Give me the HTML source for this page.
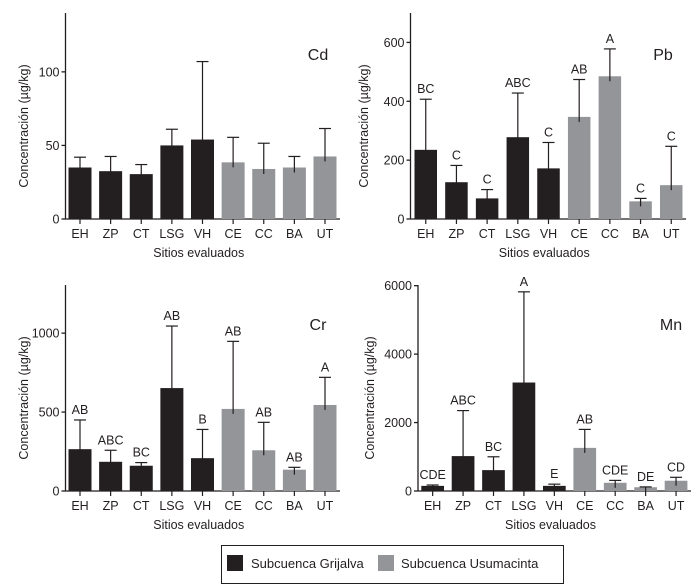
<!DOCTYPE html>
<html><head><meta charset="utf-8"><style>
html,body{margin:0;padding:0;background:#fff;}
svg{display:block;font-family:"Liberation Sans",Arial,sans-serif;}
</style></head><body>
<svg id="chart" width="696" height="587" viewBox="0 0 696 587" xmlns="http://www.w3.org/2000/svg">
<g>
<rect x="221.5" y="545.5" width="342" height="38" fill="none" stroke="#231f20" stroke-width="1"/>
<rect x="227" y="555" width="16" height="16" fill="#231f20"/>
<text x="251" y="568" font-size="13" fill="#231f20">Subcuenca Grijalva</text>
<rect x="378" y="555" width="16" height="16" fill="#939598"/>
<text x="401" y="568" font-size="13" fill="#231f20">Subcuenca Usumacinta</text>
</g>
</svg>
<script>
const sites = ["EH","ZP","CT","LSG","VH","CE","CC","BA","UT"];
const groups = [0,0,0,0,0,1,1,1,1];
const cdValues = [35,32.5,30.5,50,54,38.5,34,35,42.5];
const cdErrTop = [42,42.5,37,61,107,55.5,51.5,42.5,61.5];
const cdTicks = [0,50,100];
const pbValues = [235,125,70,278,172,347,485,60,115];
const pbErrTop = [407,182,100,428,260,474,578,70,247];
const pbLetters = ["BC","C","C","ABC","C","AB","A","C","C"];
const pbTicks = [0,200,400,600];
const crValues = [265,185,160,652,208,520,258,135,545];
const crErrTop = [450,258,180,1045,390,948,435,150,720];
const crLetters = ["AB","ABC","BC","AB","B","AB","AB","AB","A"];
const crTicks = [0,500,1000];
const mnValues = [150,1020,610,3170,150,1260,240,110,300];
const mnErrTop = [175,2350,1000,5820,200,1800,310,120,400];
const mnLetters = ["CDE","ABC","BC","A","E","AB","CDE","DE","CD"];
const mnTicks = [0,2000,4000,6000];

const NS="http://www.w3.org/2000/svg";
const svg=document.getElementById('chart');
function mk(tag,attrs,parent){const e=document.createElementNS(NS,tag);for(const k in attrs)e.setAttribute(k,attrs[k]);parent.appendChild(e);return e;}
const INK="#231f20";
function panel(cfg,values,errTop,letters,ticks){
  const g=mk('g',{},svg);
  
  
  const y=v=>cfg.base-(v/cfg.max)*(cfg.base-cfg.top);
  const step=(cfg.lastX-cfg.firstX)/(sites.length-1);
  const xc=i=>cfg.firstX+cfg.bw/2+i*step;
  const ya=mk('line',{x1:cfg.ax,y1:cfg.top,x2:cfg.ax,y2:cfg.base,stroke:INK,'stroke-width':1.3},g);
  
  
  const xa=mk('line',{x1:cfg.ax,y1:cfg.base,x2:cfg.axEnd,y2:cfg.base,stroke:INK,'stroke-width':1.3},g);
  
  
  ticks.forEach(t=>{
    const ty=y(t);
    const tl=mk('line',{x1:cfg.ax-4,y1:ty,x2:cfg.ax,y2:ty,stroke:INK,'stroke-width':1.3},g);
    
    
    const tt=mk('text',{x:cfg.ax-6,y:ty+4.5,'text-anchor':'end','font-size':12.5,fill:INK},g);
    tt.textContent=t;
    
    
  });
  sites.forEach((s,i)=>{
    const x=xc(i);
    const bar=mk('rect',{x:x-cfg.bw/2,y:y(values[i]),width:cfg.bw,height:cfg.base-y(values[i]),fill:groups[i]?'#939598':INK},g);
    
    
    const lowY=Math.min(cfg.base,y(values[i])+5);
    const el=mk('line',{x1:x,y1:lowY,x2:x,y2:y(errTop[i]),stroke:INK,'stroke-width':1.2},g);
    
    
    const cap=mk('line',{x1:x-6,y1:y(errTop[i]),x2:x+6,y2:y(errTop[i]),stroke:INK,'stroke-width':1.2},g);
    
    
    const xt=mk('line',{x1:x,y1:cfg.base,x2:x,y2:cfg.base+5,stroke:INK,'stroke-width':1.2},g);
    
    
    const lab=mk('text',{x:x,y:cfg.base+19,'text-anchor':'middle','font-size':12.5,fill:INK},g);
    lab.textContent=s;
    
    
    if(letters){
      const lt=mk('text',{x:x,y:y(errTop[i])-6,'text-anchor':'middle','font-size':12.5,fill:INK},g);
      lt.textContent=letters[i];
      
      
    }
  });
  const xtitle=mk('text',{x:(cfg.ax+cfg.axEnd)/2-4,y:cfg.base+38,'text-anchor':'middle','font-size':12.5,fill:INK},g);
  xtitle.textContent='Sitios evaluados';
  
  
  const ytitle=mk('text',{x:0,y:0,'text-anchor':'middle','font-size':12.5,fill:INK,transform:`translate(${cfg.ytx},${(cfg.top+cfg.base)/2+10}) rotate(-90)`},g);
  ytitle.textContent='Concentración (µg/kg)';
  
  
  const el=mk('text',{x:cfg.lx,y:cfg.ly,'text-anchor':'middle','font-size':16,fill:INK},g);
  el.textContent=cfg.label;
  
  
}
panel({name:'cd',label:'Cd',ax:65.5,axEnd:340,top:13,base:219,max:140,firstX:68.5,lastX:313.5,bw:23,ytx:28,lx:318,ly:60},cdValues,cdErrTop,null,cdTicks);
panel({name:'pb',label:'Pb',ax:410.5,axEnd:686,top:13,base:219,max:700,firstX:414.5,lastX:660,bw:22.5,ytx:368,lx:663,ly:60},pbValues,pbErrTop,pbLetters,pbTicks);
panel({name:'cr',label:'Cr',ax:65.5,axEnd:340,top:285,base:491,max:1305,firstX:68.5,lastX:313.5,bw:23,ytx:28,lx:318,ly:330},crValues,crErrTop,crLetters,crTicks);
panel({name:'mn',label:'Mn',ax:418,axEnd:691,top:285,base:491,max:6020,firstX:421.3,lastX:664.7,bw:22.7,ytx:374,lx:671,ly:330},mnValues,mnErrTop,mnLetters,mnTicks);
</script>
</body></html>
